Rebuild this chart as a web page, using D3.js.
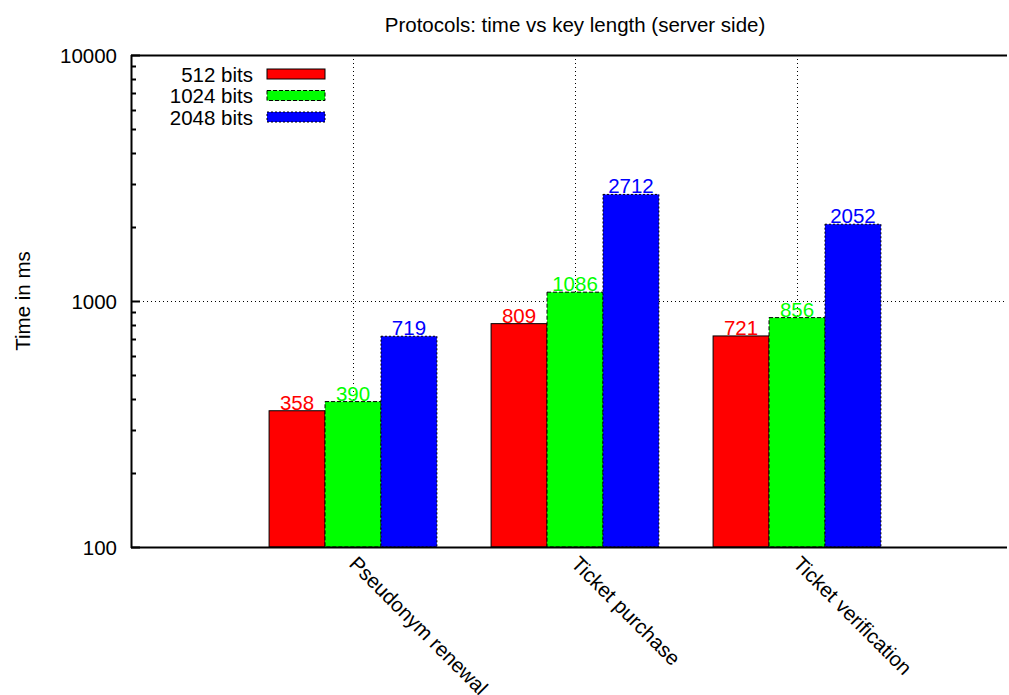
<!DOCTYPE html>
<html>
<head>
<meta charset="utf-8">
<script src="https://cdn.jsdelivr.net/npm/d3@7"></script>
<style>
  body { margin: 0; background: #fff; }
  svg { display: block; font-family: "Liberation Sans", Arial, sans-serif; }
</style>
</head>
<body>
<svg id="chart" width="1009" height="695"></svg>
<script>
const categories = ["Pseudonym renewal", "Ticket purchase", "Ticket verification"];
const seriesNames = ["512 bits", "1024 bits", "2048 bits"];
const values512 = [358, 809, 721];
const values1024 = [390, 1086, 856];
const values2048 = [719, 2712, 2052];
const yTickValues = [100, 1000, 10000];
const seriesColors = ["#ff0000", "#00ff00", "#0000ff"];
const seriesDash = [null, "4,2", "2,2"];

const series = [values512, values1024, values2048];
const fontSize = 20.5;

const svg = d3.select("#chart");
const plotLeft = 131, plotRight = 1007, plotTop = 55, plotBottom = 547;

// categories sit at integer positions 1..3; the x range runs a bit past the last group
const x = d3.scaleLinear().domain([0, (plotRight - plotLeft) / 222]).range([plotLeft, plotRight]);
const y = d3.scaleLog().domain([100, 10000]).range([plotBottom, plotTop]);
const barW = x(0.252) - x(0);

// grid
const grid = svg.append("g").attr("stroke", "#000").attr("stroke-width", 1)
  .attr("stroke-dasharray", "1,3");
categories.forEach((c, i) => {
  grid.append("line").attr("x1", Math.round(x(i + 1)) + 0.5).attr("x2", Math.round(x(i + 1)) + 0.5)
    .attr("y1", plotTop).attr("y2", plotBottom);
});
grid.append("line").attr("x1", plotLeft).attr("x2", plotRight)
  .attr("y1", Math.round(y(1000)) + 0.5).attr("y2", Math.round(y(1000)) + 0.5);

// bars
series.forEach((vals, s) => {
  const g = svg.append("g");
  vals.forEach((v, i) => {
    const cx = x(i + 1) + (s - 1) * barW;
    g.append("rect")
      .attr("x", cx - barW / 2).attr("width", barW)
      .attr("y", y(v)).attr("height", y(100) - y(v))
      .attr("fill", seriesColors[s])
      .attr("stroke", "#000").attr("stroke-width", 1)
      .attr("stroke-dasharray", seriesDash[s]);
    g.append("text")
      .attr("x", cx).attr("y", y(v) - 1)
      .attr("text-anchor", "middle")
      .attr("font-size", fontSize)
      .attr("fill", seriesColors[s])
      .text(v);
  });
});

// frame: left axis, bottom and top lines
svg.append("line").attr("x1", plotLeft).attr("x2", plotRight).attr("y1", plotTop + 0.5).attr("y2", plotTop + 0.5)
  .attr("stroke", "#000").attr("stroke-width", 2);
svg.append("line").attr("x1", plotLeft).attr("x2", plotRight).attr("y1", plotBottom + 0.5).attr("y2", plotBottom + 0.5)
  .attr("stroke", "#000").attr("stroke-width", 2);
svg.append("line").attr("x1", plotLeft + 0.5).attr("x2", plotLeft + 0.5).attr("y1", plotTop).attr("y2", plotBottom + 1)
  .attr("stroke", "#000").attr("stroke-width", 2);

// y ticks (major + minor, pointing inward)
const minor = [];
for (let d = 100; d < 10000; d *= 10) for (let k = 2; k <= 9; k++) minor.push(d * k);
const ticks = svg.append("g").attr("stroke", "#000").attr("stroke-width", 2);
yTickValues.forEach(t => {
  ticks.append("line").attr("x1", plotLeft).attr("x2", plotLeft + 9)
    .attr("y1", Math.round(y(t)) + 0.5).attr("y2", Math.round(y(t)) + 0.5);
});
minor.forEach(t => {
  ticks.append("line").attr("x1", plotLeft).attr("x2", plotLeft + 5)
    .attr("y1", Math.round(y(t)) + 0.5).attr("y2", Math.round(y(t)) + 0.5);
});
svg.append("g").selectAll("text").data(yTickValues).join("text")
  .attr("x", plotLeft - 14).attr("y", d => y(d) + 7.5)
  .attr("text-anchor", "end").attr("font-size", fontSize).attr("fill", "#000")
  .text(d => d);

// category labels, rotated
svg.append("g").selectAll("text").data(categories).join("text")
  .attr("transform", (d, i) => `translate(${x(i + 1) - 5},${plotBottom + 18}) rotate(45)`)
  .attr("font-size", fontSize).attr("fill", "#000")
  .text(d => d);

// title & y label
svg.append("text").attr("x", 575).attr("y", 32).attr("text-anchor", "middle")
  .attr("font-size", fontSize).text("Protocols: time vs key length (server side)");
svg.append("text").attr("transform", `translate(30,${y(1000)}) rotate(-90)`)
  .attr("text-anchor", "middle").attr("font-size", fontSize).text("Time in ms");

// legend
const legend = svg.append("g");
seriesNames.forEach((n, s) => {
  const ly = 74 + s * 21.5;
  legend.append("text").attr("x", 253).attr("y", ly + 7.5).attr("text-anchor", "end")
    .attr("font-size", fontSize).text(n);
  legend.append("rect").attr("x", 267).attr("y", ly - 5).attr("width", 58).attr("height", 10)
    .attr("fill", seriesColors[s]).attr("stroke", "#000").attr("stroke-width", 1)
    .attr("stroke-dasharray", seriesDash[s]);
});
</script>
</body>
</html>
